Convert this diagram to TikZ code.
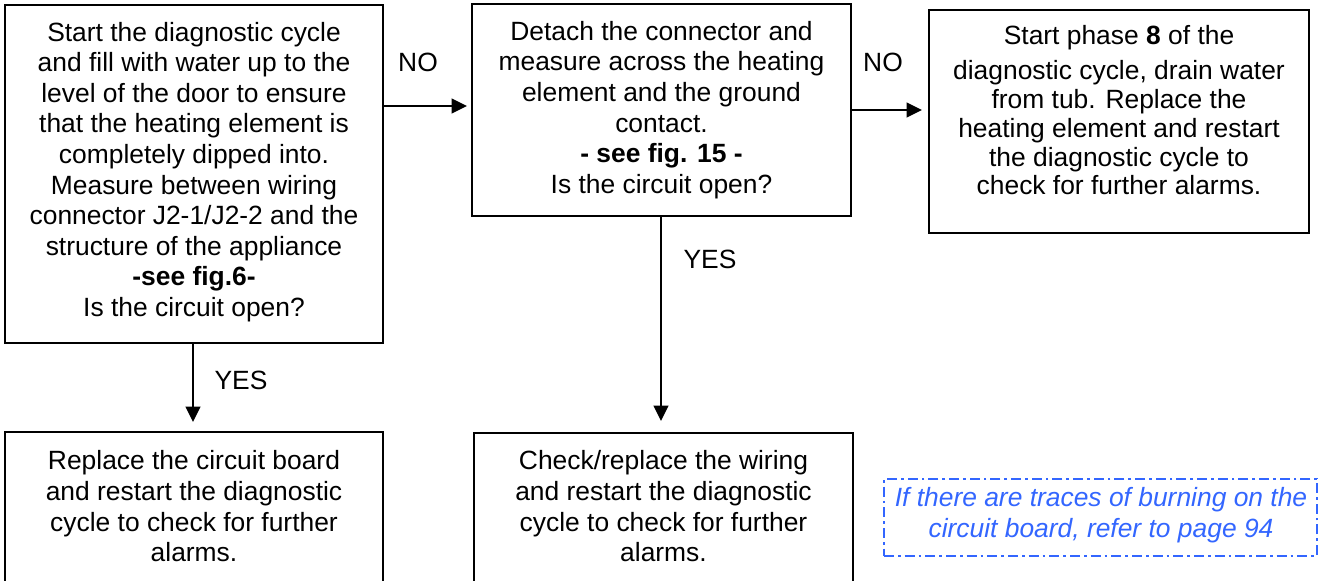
\documentclass[tikz,border=0pt]{standalone}
\usepackage{fontspec}
\setmainfont{Liberation Sans}
\usetikzlibrary{arrows.meta}
\definecolor{noteblue}{RGB}{51,102,255}
\tikzset{
  box/.style={draw=black, line width=1.5pt, inner sep=0pt, fill=white},
  txt/.style={align=center, inner sep=0pt, font=\fontsize{19.8pt}{22.95pt}\selectfont},
  lbl/.style={inner sep=0pt, font=\fontsize{19.8pt}{22.95pt}\selectfont},
  arr/.style={line width=1.5pt, -{Triangle[length=11.5pt,width=11pt]}},
  note/.style={draw=noteblue, line width=1.3pt, inner sep=0pt,
    dash pattern=on 7.5pt off 3pt on 2pt off 3pt},
}
\begin{document}
\begin{tikzpicture}[x=0.75pt,y=-0.75pt]
\useasboundingbox (0,0) rectangle (1320,581);
\clip (0,0) rectangle (1320,581);

% boxes
\node[box, minimum width=283.5pt, minimum height=253.5pt] (b1) at (194,174) {};
\node[box, minimum width=284.25pt, minimum height=159pt] (b2) at (661.5,110) {};
\node[box, minimum width=285pt, minimum height=167.25pt] (b3) at (1119,121.5) {};
\node[box, minimum width=283.5pt, minimum height=141pt] (b4) at (194,526) {};
\node[box, minimum width=284.25pt, minimum height=140.25pt] (b5) at (663.5,526.5) {};
\node[note, minimum width=324.75pt, minimum height=57.75pt] (d) at (1100.5,517.5) {};

% texts
\node[txt] (t1) at (194,172) {Start the diagnostic cycle\\
and fill with water up to the\\
level of the door to ensure\\
that the heating element is\\
completely dipped into.\\
Measure between wiring\\
connector J2-1/J2-2 and the\\
structure of the appliance\\
\textbf{-see fig.6-}\\
Is the circuit open?};

\node[txt] (t2) at (661.5,110) {Detach the connector and\\
measure across the heating\\
element and the ground\\
contact.\\
\textbf{- see fig. 15 -}\\
Is the circuit open?};

\node[txt, font=\fontsize{19.8pt}{21.56pt}\selectfont] (t3) at (1119,110.5) {Start phase \textbf{8} of the\\[4.7pt]
diagnostic cycle, drain water\\
from tub. Replace the\\
heating element and restart\\
the diagnostic cycle to\\
check for further alarms.};

\node[txt, font=\fontsize{19.8pt}{23pt}\selectfont] (t4) at (194,506.5) {Replace the circuit board\\
and restart the diagnostic\\
cycle to check for further\\
alarms.};

\node[txt, font=\fontsize{19.8pt}{23pt}\selectfont] (t5) at (663.5,506.5) {Check/replace the wiring\\
and restart the diagnostic\\
cycle to check for further\\
alarms.};

\node[txt, text=noteblue, font=\fontsize{19.8pt}{23.25pt}\selectfont\itshape] (td) at (1101,514.7) {If there are traces of burning on the\\
circuit board, refer to page 94};

% labels
\node[lbl] (no1) at (418,62) {NO};
\node[lbl] (no2) at (883,62) {NO};
\node[lbl] (yes1) at (241,380) {YES};
\node[lbl] (yes2) at (710,259) {YES};

% connectors
\coordinate (ya) at (0,106);
\coordinate (yb) at (0,110);
\coordinate (xa) at (193,0);
\coordinate (xb) at (661,0);
\draw[arr, shorten >=3pt] (b1.east |- ya) -- (b2.west |- ya);
\draw[arr, shorten >=4.5pt] (b2.east |- yb) -- (b3.west |- yb);
\draw[arr, shorten >=6.75pt] (xa |- b1.south) -- (xa |- b4.north);
\draw[arr, shorten >=8.25pt] (xb |- b2.south) -- (xb |- b5.north);
\end{tikzpicture}
\end{document}
